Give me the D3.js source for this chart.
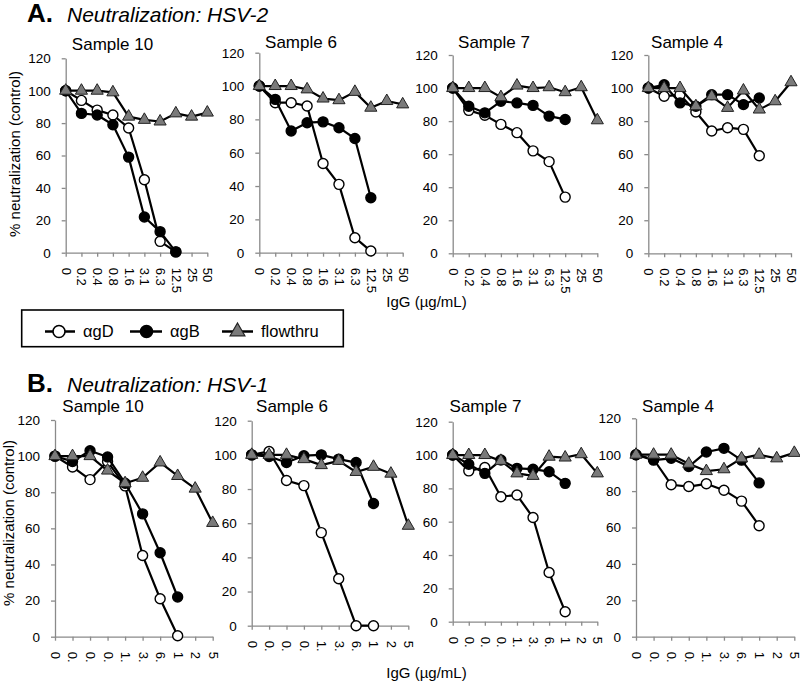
<!DOCTYPE html>
<html>
<head>
<meta charset="utf-8">
<script src="https://cdn.jsdelivr.net/npm/d3@7"></script>
<style>
  html, body { margin: 0; padding: 0; background: #fff; }
  svg { display: block; font-family: "Liberation Sans", Arial, sans-serif; }
</style>
</head>
<body>
<svg id="chart" width="800" height="684"></svg>
<script>
// ---------- DATA ----------
const doseLabels = ["0", "0.2", "0.4", "0.8", "1.6", "3.1", "6.3", "12.5", "25", "50"];
const doseLabelsCut = ["0", "0.", "0.", "0.", "1.", "3.", "6.", "1", "2", "5"];
const sampleNames = ["Sample 10", "Sample 6", "Sample 7", "Sample 4"];
const yTicks = [0, 20, 40, 60, 80, 100, 120];
const seriesNames = ["\u03b1gD", "\u03b1gB", "flowthru"];

// Panel A: HSV-2
const hsv2_s10_gD = [100, 94, 88, 85, 77, 45, 7, 0.5];
const hsv2_s10_gB = [100, 86, 85, 79, 59, 22, 13, 0.5];
const hsv2_s10_ft = [100, 100, 100, 99, 84, 82, 81, 86, 84, 86.5];

const hsv2_s6_gD = [100, 90, 90, 88, 53.5, 41, 9, 1];
const hsv2_s6_gB = [100, 92, 73, 78, 78.5, 75, 68.5, 33];
const hsv2_s6_ft = [100, 100, 100, 98, 92.5, 91.5, 96.5, 87, 91, 89];

const hsv2_s7_gD = [100, 86.5, 83.5, 78, 73, 62, 55.5, 34];
const hsv2_s7_gB = [100, 89, 85, 92, 91, 89.5, 83, 81];
const hsv2_s7_ft = [100, 100, 100, 94.5, 101.5, 100, 100.5, 97.5, 100.5, 80.5];

const hsv2_s4_gD = [100, 95, 96, 85.5, 74, 76, 75, 59];
const hsv2_s4_gB = [100, 102, 91, 89, 96, 96, 90, 94];
const hsv2_s4_ft = [100, 100, 100, 89, 95, 88, 98.5, 87, 92, 103.5];

// Panel B: HSV-1
const hsv1_s10_gD = [100, 94, 87, 97, 83.5, 45, 21, 0.5];
const hsv1_s10_gB = [100, 97, 103, 99.5, 85, 68, 46.5, 22];
const hsv1_s10_ft = [100, 100, 100, 92, 85, 88, 96.5, 89, 82, 63];

const hsv1_s6_gD = [100, 102, 85, 82, 54.5, 27.5, 0, 0];
const hsv1_s6_gB = [100, 99, 95.5, 99.5, 100, 97.5, 95.5, 71.5];
const hsv1_s6_ft = [100, 100, 100, 97.5, 94, 96.5, 90, 93, 89, 58.5];

const hsv1_s7_gD = [100, 90.5, 92.5, 75, 76, 62.5, 29.5, 6];
const hsv1_s7_gB = [100, 94.5, 89, 97, 92, 91.5, 90, 83];
const hsv1_s7_ft = [100, 100, 100, 96.5, 89, 87.5, 99, 98.5, 100.5, 89];

const hsv1_s4_gD = [100, 97.5, 83.5, 82.5, 84, 80.5, 74.5, 61];
const hsv1_s4_gB = [100, 97, 98, 93.5, 101.5, 103.5, 97, 84.5];
const hsv1_s4_ft = [100, 100, 100, 95, 91, 92, 98, 100, 98, 101];

// ---------- LAYOUT ----------
const hsv2Data = [
  [hsv2_s10_gD, hsv2_s10_gB, hsv2_s10_ft],
  [hsv2_s6_gD, hsv2_s6_gB, hsv2_s6_ft],
  [hsv2_s7_gD, hsv2_s7_gB, hsv2_s7_ft],
  [hsv2_s4_gD, hsv2_s4_gB, hsv2_s4_ft]
];
const hsv1Data = [
  [hsv1_s10_gD, hsv1_s10_gB, hsv1_s10_ft],
  [hsv1_s6_gD, hsv1_s6_gB, hsv1_s6_ft],
  [hsv1_s7_gD, hsv1_s7_gB, hsv1_s7_ft],
  [hsv1_s4_gD, hsv1_s4_gB, hsv1_s4_ft]
];

const layoutA = [
  {xL: 65.7, xR: 207.3, yT: 58.3, yB: 252.7, tx: 112.5, ty: 50},
  {xL: 259.3, xR: 402.7, yT: 52.7, yB: 252.7, tx: 301, ty: 48},
  {xL: 452.7, xR: 597.3, yT: 55, yB: 253.3, tx: 494, ty: 48},
  {xL: 648.3, xR: 791, yT: 55, yB: 253.3, tx: 687, ty: 48}
];
const layoutB = [
  {xL: 55, xR: 212.7, yT: 420, yB: 636.7, tx: 103, ty: 412},
  {xL: 251.7, xR: 408.3, yT: 420.7, yB: 625.7, tx: 292, ty: 412},
  {xL: 452.7, xR: 597.3, yT: 421.7, yB: 621.7, tx: 485.5, ty: 412},
  {xL: 636, xR: 794.3, yT: 418.3, yB: 636.7, tx: 678, ty: 412}
];

const svg = d3.select("#chart");
const axisColor = "#8a8a8a";
const triFill = "#7a7a7a";

function drawPanel(data, lay, title, xLabels) {
  const g = svg.append("g");
  const x = d3.scalePoint().domain(d3.range(doseLabels.length)).range([lay.xL, lay.xR]).padding(0);
  const y = d3.scaleLinear().domain([0, 120]).range([lay.yB, lay.yT]);

  // y axis
  const ya = g.append("g").attr("transform", `translate(${lay.xL},0)`)
    .call(d3.axisLeft(y).tickValues(yTicks).tickSize(4).tickPadding(11).tickSizeOuter(0));
  ya.selectAll("path, line").attr("stroke", axisColor).attr("stroke-width", 1.3);
  ya.selectAll("text").attr("fill", "#000").style("font-size", "13.5px")
    .style("font-family", "'Liberation Sans', Arial, sans-serif");

  // x axis
  const xa = g.append("g").attr("transform", `translate(0,${lay.yB})`)
    .call(d3.axisBottom(x).tickSize(4).tickSizeOuter(0).tickFormat(i => xLabels[i]));
  xa.selectAll("path, line").attr("stroke", axisColor).attr("stroke-width", 1.3);
  xa.selectAll("text").attr("fill", "#000").style("font-size", "13px")
    .style("font-family", "'Liberation Sans', Arial, sans-serif")
    .attr("transform", "rotate(90)")
    .attr("x", 15).attr("y", 0).attr("dy", "0.35em")
    .style("text-anchor", "start");

  // title
  g.append("text").attr("x", lay.tx).attr("y", lay.ty)
    .attr("text-anchor", "middle").style("font-size", "17px").text(title);

  const line = d3.line().x((d, i) => x(i)).y(d => y(d));

  data.forEach((vals, si) => {
    g.append("path").datum(vals).attr("d", line)
      .attr("fill", "none").attr("stroke", "#000").attr("stroke-width", 2.2)
      .attr("stroke-linejoin", "round");
    if (si < 2) {
      g.selectAll(null).data(vals).enter().append("circle")
        .attr("cx", (d, i) => x(i)).attr("cy", d => y(d)).attr("r", 5)
        .attr("fill", si === 0 ? "#fff" : "#000")
        .attr("stroke", "#000").attr("stroke-width", 1.4);
    } else {
      const tri = d3.symbol(d3.symbolTriangle, 64);
      g.selectAll(null).data(vals).enter().append("path")
        .attr("d", tri)
        .attr("transform", (d, i) => `translate(${x(i)},${y(d)})`)
        .attr("fill", triFill).attr("stroke", "#222").attr("stroke-width", 1);
    }
  });
}

hsv2Data.forEach((d, i) => drawPanel(d, layoutA[i], sampleNames[i], doseLabels));
hsv1Data.forEach((d, i) => drawPanel(d, layoutB[i], sampleNames[i], doseLabelsCut));

// Headers
function header(letter, text, yb) {
  svg.append("text").attr("x", 27).attr("y", yb)
    .style("font-size", "26px").style("font-weight", "bold").text(letter);
  svg.append("text").attr("x", 67).attr("y", yb)
    .style("font-size", "21px").style("font-style", "italic").text(text);
}
header("A.", "Neutralization: HSV-2", 22);
header("B.", "Neutralization: HSV-1", 392);

// y axis titles
function yTitle(cx, cy) {
  svg.append("text").attr("transform", `translate(${cx},${cy}) rotate(-90)`)
    .attr("text-anchor", "middle").attr("dy", "0.35em")
    .style("font-size", "15px").text("% neutralization (control)");
}
yTitle(15, 154);
yTitle(8.5, 523);

// x axis titles
svg.append("text").attr("x", 426.5).attr("y", 307).attr("text-anchor", "middle")
  .style("font-size", "15px").text("IgG (\u00b5g/mL)");
svg.append("text").attr("x", 426.5).attr("y", 678).attr("text-anchor", "middle")
  .style("font-size", "15px").text("IgG (\u00b5g/mL)");

// Legend
const lg = svg.append("g");
lg.append("rect").attr("x", 21.7).attr("y", 310).attr("width", 321.6).attr("height", 36.7)
  .attr("fill", "#fff").attr("stroke", "#000").attr("stroke-width", 1.6);
const legendItems = [
  {x1: 45, x2: 75, mx: 59, tx: 83},
  {x1: 130, x2: 162, mx: 146.5, tx: 170},
  {x1: 222, x2: 253, mx: 237.5, tx: 261}
];
const ly = 331.5;
legendItems.forEach((it, si) => {
  lg.append("line").attr("x1", it.x1).attr("x2", it.x2).attr("y1", ly).attr("y2", ly)
    .attr("stroke", "#000").attr("stroke-width", 2.5);
  if (si < 2) {
    lg.append("circle").attr("cx", it.mx).attr("cy", ly).attr("r", 6)
      .attr("fill", si === 0 ? "#fff" : "#000").attr("stroke", "#000").attr("stroke-width", 1.6);
  } else {
    lg.append("path").attr("d", d3.symbol(d3.symbolTriangle, 95))
      .attr("transform", `translate(${it.mx},${ly})`)
      .attr("fill", triFill).attr("stroke", "#222").attr("stroke-width", 1.2);
  }
  lg.append("text").attr("x", it.tx).attr("y", ly + 5.5)
    .style("font-size", "16.5px").text(seriesNames[si]);
});
</script>
</body>
</html>
